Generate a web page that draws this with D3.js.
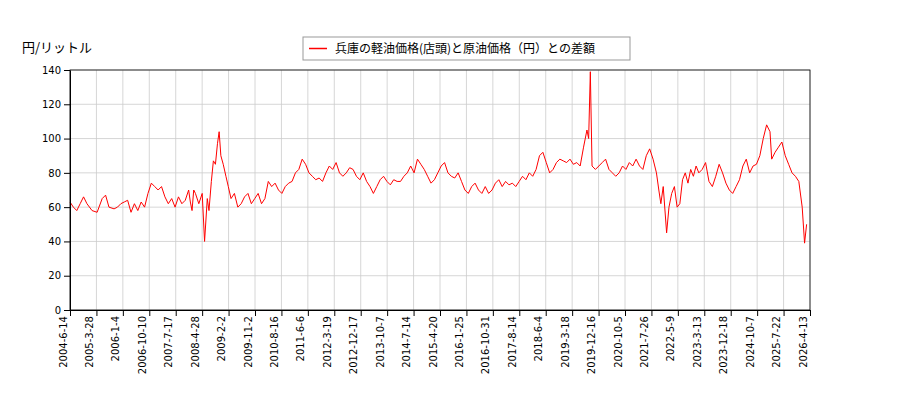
<!DOCTYPE html>
<html><head><meta charset="utf-8">
<script src="https://cdn.jsdelivr.net/npm/d3@7"></script>
<style>body{margin:0;background:#fff;font-family:"Noto Sans CJK JP","DejaVu Sans",sans-serif}</style>
</head><body><div id="chart"></div>
<script>
// [decimal year, yen per litre]
const seriesValues = [
[2004.45,63],[2004.55,60],[2004.65,58],[2004.75,62],[2004.85,66],[2004.95,62],[2005.1,58],[2005.25,57],
[2005.4,65],[2005.5,67],[2005.6,60],[2005.75,59],[2005.85,60],[2005.95,62],[2006.05,63],[2006.15,64],[2006.25,57],[2006.35,62],[2006.45,58],[2006.55,63],[2006.65,60],
[2006.75,68],[2006.85,74],[2006.95,72],[2007.05,70],[2007.15,72],[2007.25,66],[2007.35,62],[2007.45,65],[2007.55,60],[2007.65,66],[2007.75,62],[2007.85,64],
[2007.95,70],[2008.0,63],[2008.05,58],[2008.1,70],[2008.15,68],[2008.25,62],[2008.35,68],[2008.42,40],[2008.5,65],[2008.55,58],[2008.62,75],[2008.68,87],[2008.74,85],[2008.8,97],[2008.85,104],
[2008.9,90],[2008.97,85],[2009.05,78],[2009.12,72],[2009.2,65],[2009.3,68],[2009.4,60],[2009.5,62],[2009.6,66],[2009.7,68],[2009.8,62],[2009.9,65],[2010.0,68],[2010.1,62],[2010.2,65],[2010.3,75],[2010.4,72],
[2010.5,74],[2010.6,70],[2010.7,68],[2010.8,72],[2010.9,74],[2011.0,75],[2011.1,80],[2011.2,82],[2011.3,88],[2011.4,85],[2011.5,80],[2011.6,78],[2011.7,76],[2011.8,77],[2011.9,75],[2012.0,80],
[2012.1,84],[2012.2,82],[2012.3,86],[2012.4,80],[2012.5,78],[2012.6,80],[2012.7,83],[2012.8,82],[2012.9,78],[2013.0,76],[2013.1,80],[2013.2,75],[2013.3,72],[2013.4,68],[2013.5,72],
[2013.6,76],[2013.7,78],[2013.8,75],[2013.9,73],[2014.0,76],[2014.1,75],[2014.2,75],[2014.3,78],[2014.4,80],[2014.5,84],[2014.6,80],[2014.7,88],[2014.8,85],[2014.9,82],[2015.0,78],
[2015.1,74],[2015.2,76],[2015.3,80],[2015.4,84],[2015.5,86],[2015.6,80],[2015.7,78],[2015.8,77],[2015.9,80],[2016.0,75],[2016.1,70],[2016.2,68],[2016.3,72],[2016.4,74],
[2016.5,70],[2016.6,68],[2016.7,72],[2016.8,68],[2016.9,70],[2017.0,74],[2017.1,76],[2017.2,72],[2017.3,75],[2017.4,73],[2017.5,74],[2017.6,72],[2017.7,75],[2017.8,78],
[2017.9,76],[2018.0,80],[2018.1,78],[2018.2,82],[2018.3,90],[2018.4,92],[2018.5,86],[2018.6,80],[2018.7,82],[2018.8,86],[2018.9,88],[2019.0,87],[2019.1,86],
[2019.2,88],[2019.3,85],[2019.4,86],[2019.5,84],[2019.6,95],[2019.7,105],[2019.75,100],[2019.8,139],[2019.85,84],[2019.95,82],[2020.05,84],[2020.15,86],[2020.25,88],
[2020.35,82],[2020.45,80],[2020.55,78],[2020.65,80],[2020.75,84],[2020.85,82],[2020.95,86],[2021.05,84],[2021.15,88],[2021.25,84],[2021.35,82],[2021.45,90],[2021.55,94],[2021.65,88],
[2021.75,80],[2021.82,70],[2021.88,62],[2021.95,72],[2022.05,45],[2022.12,60],[2022.2,68],[2022.28,72],[2022.36,60],[2022.44,62],[2022.52,76],[2022.6,80],[2022.68,74],[2022.76,82],[2022.84,78],
[2022.92,84],[2023.0,80],[2023.1,82],[2023.2,86],[2023.3,75],[2023.4,72],[2023.5,78],[2023.6,85],[2023.7,80],[2023.8,74],[2023.9,70],[2024.0,68],[2024.1,72],[2024.2,76],[2024.3,84],
[2024.4,88],[2024.5,80],[2024.6,84],[2024.7,85],[2024.8,90],[2024.9,100],[2025.0,108],[2025.1,104],[2025.15,88],[2025.25,92],[2025.35,95],[2025.45,98],[2025.55,90],[2025.65,85],
[2025.75,80],[2025.85,78],[2025.95,75],[2026.05,60],[2026.12,39],[2026.18,50]];
const tickLabels = ["2004-6-14","2005-3-28","2006-1-4","2006-10-10","2007-7-17","2008-4-28","2009-2-2","2009-11-2","2010-8-16","2011-6-6","2012-3-19","2012-12-17","2013-10-7","2014-7-14","2015-4-20","2016-1-25","2016-10-31","2017-8-14","2018-6-4","2019-3-18","2019-12-16","2020-10-5","2021-7-26","2022-5-9","2023-3-13","2023-12-18","2024-10-7","2025-7-22","2026-4-13"];
const yTicks = [0,20,40,60,80,100,120,140];

const margin = {top: 70, right: 90, bottom: 90, left: 70},
    width = 900 - margin.left - margin.right,
    height = 400 - margin.top - margin.bottom;

const svg = d3.select("#chart").append("svg")
    .attr("width", 900).attr("height", 400);
const g = svg.append("g").attr("transform", "translate(" + margin.left + "," + margin.top + ")");

// labels sit evenly along the axis, data runs linearly over the same span
const xi = d3.scaleLinear().domain([0, tickLabels.length - 1]).range([0, width]);
const x = d3.scaleLinear().domain([2004.45, 2026.28]).range([0, width]);
const y = d3.scaleLinear().domain([0, 140]).range([height, 0]);
const tickIdx = d3.range(tickLabels.length);

// grid
g.append("g").selectAll("line").data(tickIdx).enter().append("line")
    .attr("x1", d => xi(d)).attr("x2", d => xi(d)).attr("y1", 0).attr("y2", height)
    .attr("stroke", "#ccc").attr("stroke-width", 0.8);
g.append("g").selectAll("line").data(yTicks).enter().append("line")
    .attr("x1", 0).attr("x2", width).attr("y1", d => y(d)).attr("y2", d => y(d))
    .attr("stroke", "#ccc").attr("stroke-width", 0.8);

g.append("path").datum(seriesValues)
    .attr("fill", "none").attr("stroke", "#ff0000").attr("stroke-width", 1)
    .attr("d", d3.line().x(d => x(d[0])).y(d => y(d[1])));

const xa = g.append("g").attr("transform", "translate(0," + height + ")")
    .call(d3.axisBottom(xi).tickValues(tickIdx).tickFormat(i => tickLabels[i]).tickSizeOuter(0));
xa.selectAll("text").attr("transform", "rotate(-90)").attr("x", -6).attr("y", -4)
    .attr("dy", 0).style("text-anchor", "end").style("font-size", "10px").style("font-family", "DejaVu Sans");
const ya = g.append("g").call(d3.axisLeft(y).tickValues(yTicks).tickSizeOuter(0));
ya.selectAll("text").style("font-size", "10px").style("font-family", "DejaVu Sans");
g.append("rect").attr("width", width).attr("height", height).attr("fill", "none").attr("stroke", "#000").attr("stroke-width", 0.8);

svg.append("text").attr("x", 22).attr("y", 52).text("円/リットル").style("font-size", "13px");

const lg = svg.append("g");
lg.append("rect").attr("x", 303).attr("y", 37).attr("width", 327).attr("height", 23)
    .attr("fill", "#fff").attr("stroke", "#999");
lg.append("line").attr("x1", 309).attr("x2", 327).attr("y1", 48.5).attr("y2", 48.5).attr("stroke", "#ff0000").attr("stroke-width", 1.5);
lg.append("text").attr("x", 335).attr("y", 53).text("兵庫の軽油価格(店頭)と原油価格（円）との差額").style("font-size", "12px");
</script></body></html>
